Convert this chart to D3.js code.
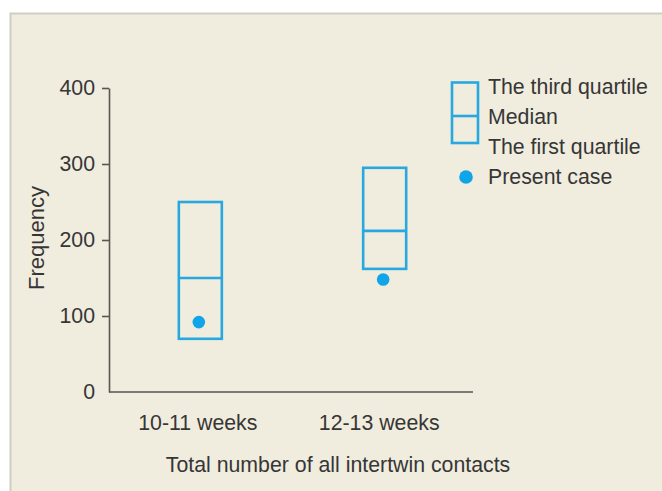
<!DOCTYPE html>
<html><head><meta charset="utf-8">
<script src="https://cdn.jsdelivr.net/npm/d3@7"></script>
<style>
html,body{margin:0;padding:0;background:#fff;}
svg{display:block;}
text{font-family:"Liberation Sans",Arial,sans-serif;fill:#363636;}
</style></head>
<body>
<script>
const categories = ["10-11 weeks", "12-13 weeks"];
const q1 = [70, 162];
const median = [150, 212];
const q3 = [250, 295];
const presentCase = [92, 148];
const yTicks = [0, 100, 200, 300, 400];
const legendLabels = ["The third quartile", "Median", "The first quartile", "Present case"];

const W = 662, H = 491;
const FS = "21.3px";
const blue = "#27a8df";
const svg = d3.select("body").append("svg").attr("width", W).attr("height", H);

// panel
svg.append("rect").attr("x", 10).attr("y", 13).attr("width", W - 10).attr("height", H - 13).attr("fill", "#f0ecde");
svg.append("path").attr("d", `M10.5,${H} V13.5 H${W}`).attr("fill", "none").attr("stroke", "#cfcdc8").attr("stroke-width", 2);

const x0 = 109, x1 = 473, yBottom = 392, yTop = 88;
const y = d3.scaleLinear().domain([0, 400]).range([yBottom, yTop]);
const x = d3.scalePoint().domain(categories).range([x0 + 1, x1 + 2]).padding(0.49);

// y axis
const yAxis = svg.append("g").attr("transform", `translate(${x0},0)`)
  .call(d3.axisLeft(y).tickValues(yTicks).tickSize(7).tickPadding(6).tickSizeOuter(0));
yAxis.select(".domain").attr("stroke", "#5a5650").attr("stroke-width", 1.6);
yAxis.selectAll(".tick line").attr("stroke", "#5a5650").attr("stroke-width", 1.6)
  .filter(d => d === 0).remove();
yAxis.selectAll(".tick text").style("font-size", FS).attr("fill", "#363636")
  .attr("font-family", "Liberation Sans, Arial, sans-serif").attr("dx", -1);

// x axis
const xAxis = svg.append("g").attr("transform", `translate(0,${yBottom})`)
  .call(d3.axisBottom(x).tickSize(0).tickPadding(23).tickSizeOuter(0));
xAxis.select(".domain").attr("d", `M${x0},0H${x1}`).attr("stroke", "#5a5650").attr("stroke-width", 1.6);
xAxis.selectAll(".tick text").style("font-size", FS).attr("fill", "#363636")
  .attr("font-family", "Liberation Sans, Arial, sans-serif").attr("dx", (d, i) => i === 0 ? -3 : -6);

// axis titles
svg.append("text").attr("x", 338).attr("y", 472).attr("text-anchor", "middle")
  .style("font-size", FS).text("Total number of all intertwin contacts");
svg.append("text").attr("transform", "translate(44,238) rotate(-90)").attr("text-anchor", "middle")
  .style("font-size", "22px").text("Frequency");

// boxes
const bw = 43;
const data = categories.map((c, i) => ({c, q1: q1[i], med: median[i], q3: q3[i], pc: presentCase[i]}));
const g = svg.append("g");
data.forEach(d => {
  const cx = x(d.c);
  g.append("rect").attr("x", cx - bw / 2).attr("y", y(d.q3)).attr("width", bw).attr("height", y(d.q1) - y(d.q3))
    .attr("fill", "none").attr("stroke", blue).attr("stroke-width", 2.6);
  g.append("line").attr("x1", cx - bw / 2).attr("x2", cx + bw / 2).attr("y1", y(d.med)).attr("y2", y(d.med))
    .attr("stroke", blue).attr("stroke-width", 2.6);
  g.append("circle").attr("cx", cx - 1.5).attr("cy", y(d.pc)).attr("r", 6.3).attr("fill", "#10a5e8");
});

// legend
const lg = svg.append("g");
lg.append("rect").attr("x", 452).attr("y", 82.5).attr("width", 26).attr("height", 60.5)
  .attr("fill", "none").attr("stroke", blue).attr("stroke-width", 2.6);
lg.append("line").attr("x1", 452).attr("x2", 478).attr("y1", 116).attr("y2", 116).attr("stroke", blue).attr("stroke-width", 2.6);
lg.append("circle").attr("cx", 466).attr("cy", 177).attr("r", 6.8).attr("fill", "#10a5e8");
const ly = [87, 117, 147, 177];
legendLabels.forEach((t, i) => {
  lg.append("text").attr("x", 488).attr("y", ly[i]).attr("dy", "0.35em").style("font-size", FS).text(t);
});
</script>
</body></html>
